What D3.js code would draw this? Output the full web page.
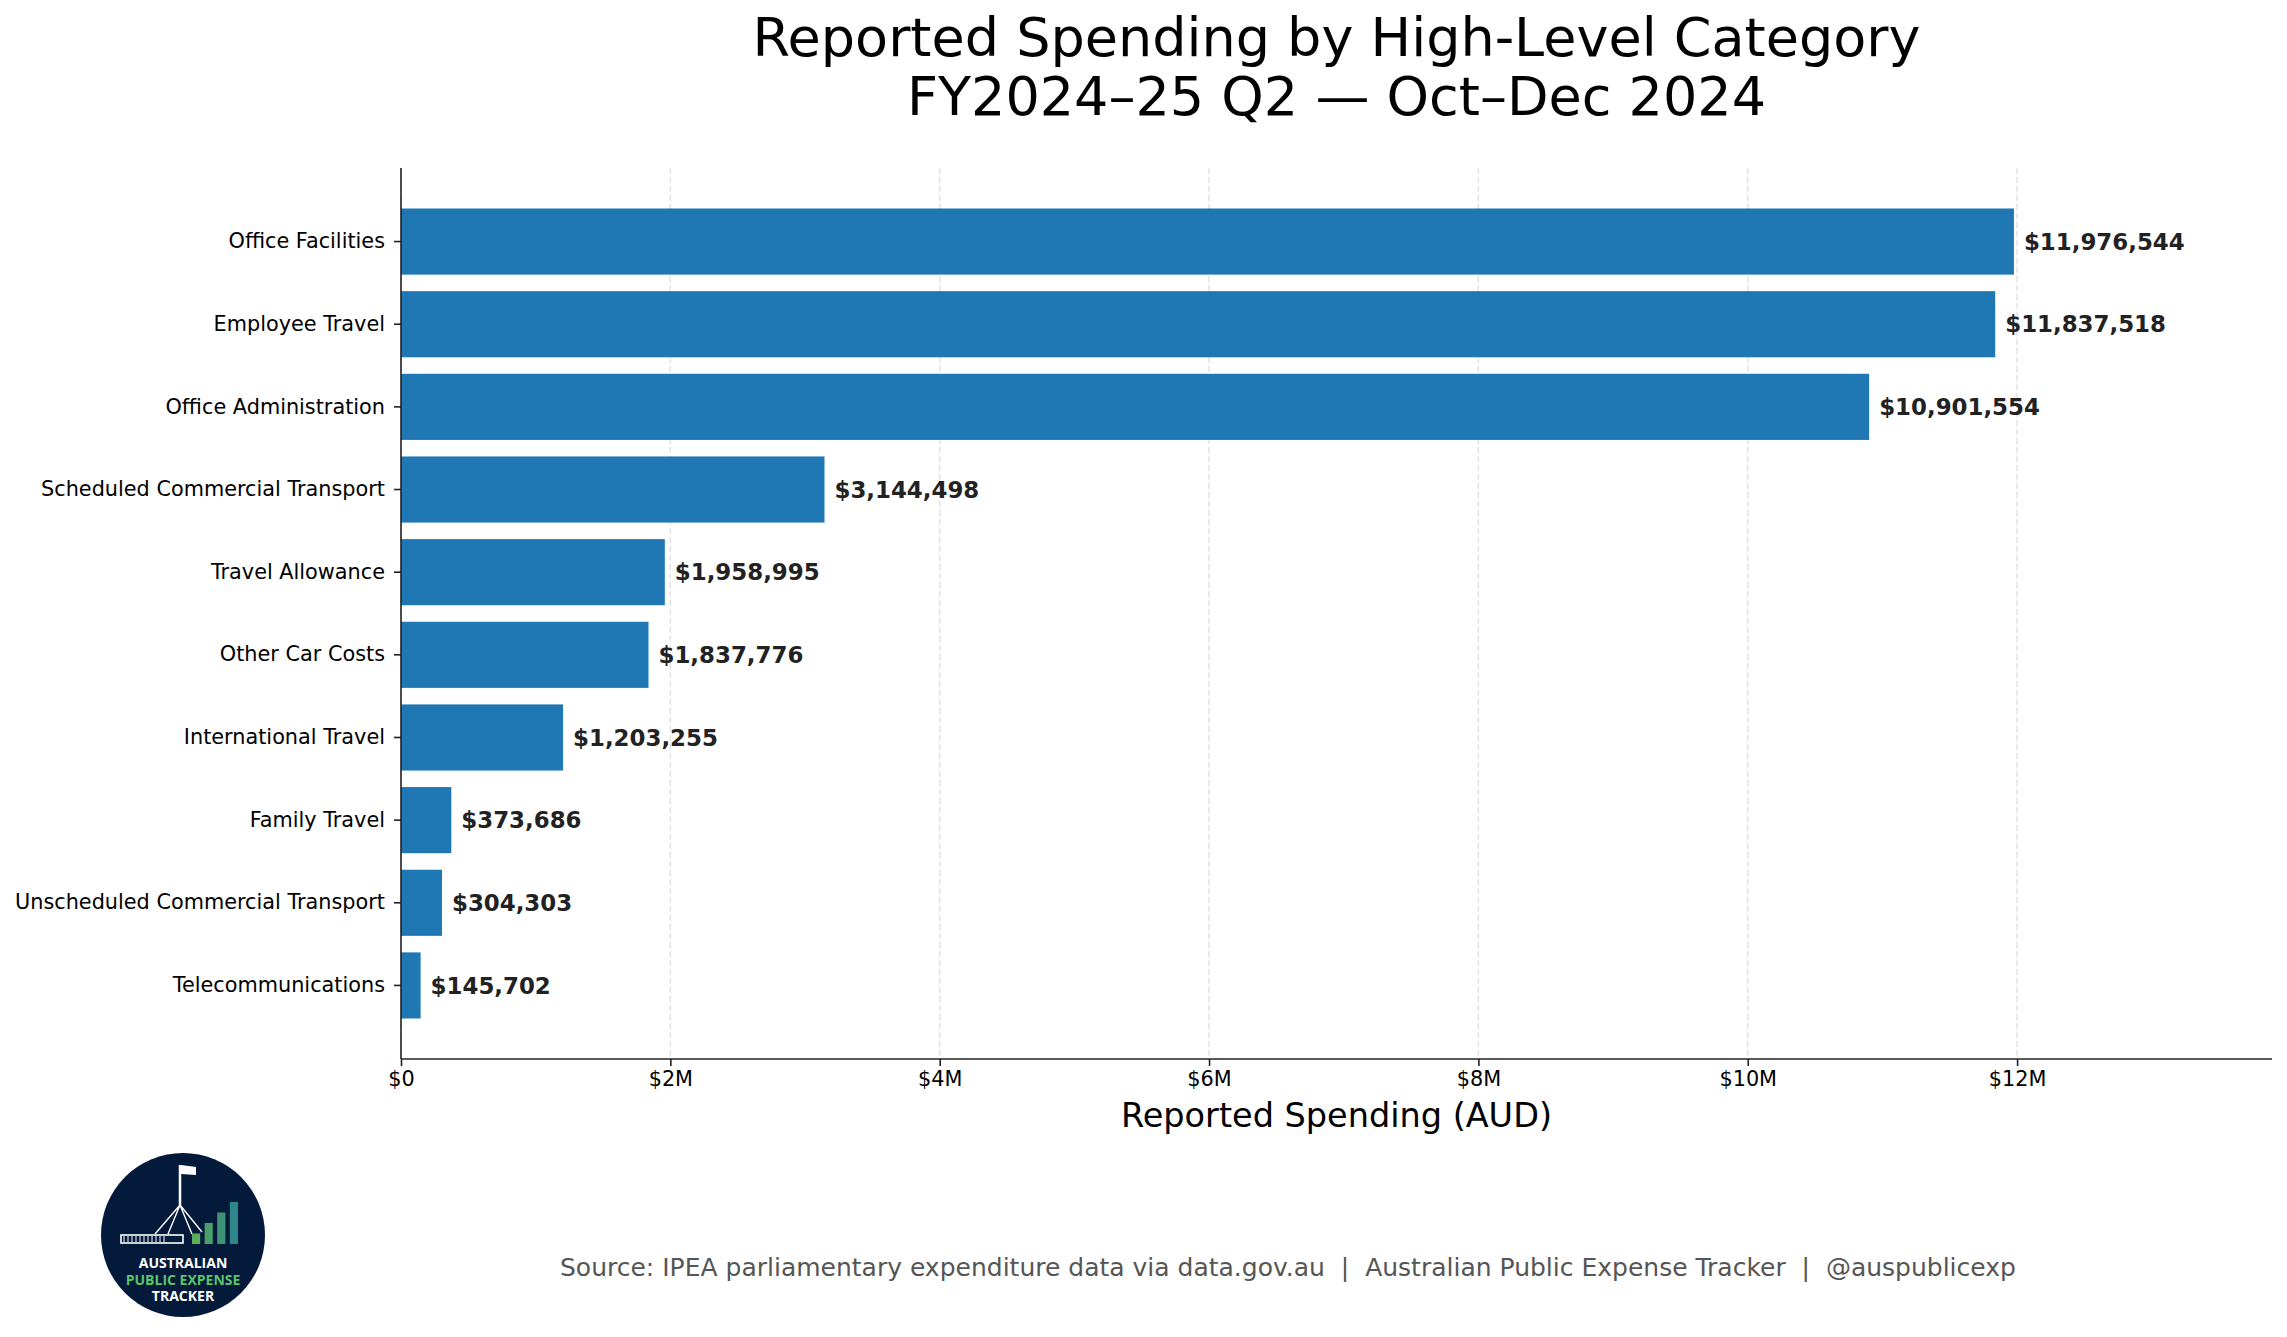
<!DOCTYPE html>
<html>
<head>
<meta charset="utf-8">
<script src="https://cdn.jsdelivr.net/npm/d3@7"></script>
<style>
  body { margin: 0; background: #fff; }
  svg { display: block; font-family: "DejaVu Sans", sans-serif; }
</style>
</head>
<body>
<div class="spend-chart"></div>
<script>
const categories = [
  'Office Facilities',
  'Employee Travel',
  'Office Administration',
  'Scheduled Commercial Transport',
  'Travel Allowance',
  'Other Car Costs',
  'International Travel',
  'Family Travel',
  'Unscheduled Commercial Transport',
  'Telecommunications'
];
const spending = [11976544, 11837518, 10901554, 3144498, 1958995, 1837776, 1203255, 373686, 304303, 145702];
const xTicks = [0, 2e6, 4e6, 6e6, 8e6, 10e6, 12e6];
const titleLines = ['Reported Spending by High-Level Category', 'FY2024\u201325 Q2 \u2014 Oct\u2013Dec 2024'];
const xLabel = 'Reported Spending (AUD)';
const sourceText = 'Source: IPEA parliamentary expenditure data via data.gov.au  |  Australian Public Expense Tracker  |  @auspublicexp';
const logoLines = ['AUSTRALIAN', 'PUBLIC EXPENSE', 'TRACKER'];
const logoBars = [1, 2, 3, 4];

const config = {
  width: 2287,
  height: 1337,
  left: 401,
  right: 2272,
  top: 168,
  bottom: 1059,
  barColor: '#1f77b4'
};

const chart = {};

chart.$svg = d3.select('.spend-chart')
  .append('svg')
  .attr('width', config.width)
  .attr('height', config.height)
  .attr('viewBox', `0 0 ${config.width} ${config.height}`);

chart.xScale = d3.scaleLinear()
  .domain([0, d3.max(spending) * 1.16])
  .range([config.left, config.right]);

chart.yScale = d3.scaleBand()
  .domain(categories)
  .range([config.top, config.bottom])
  .paddingInner(0.2)
  .paddingOuter(0.49);

// grid
chart.$svg.append('g')
  .selectAll('line')
  .data(xTicks)
  .enter()
  .append('line')
  .attr('x1', d => chart.xScale(d))
  .attr('x2', d => chart.xScale(d))
  .attr('y1', config.top)
  .attr('y2', config.bottom)
  .attr('stroke', '#e3e3e3')
  .attr('stroke-width', 1.5)
  .attr('stroke-dasharray', '6,3');

// bars
chart.$svg.append('g')
  .selectAll('rect')
  .data(categories)
  .enter()
  .append('rect')
  .attr('x', chart.xScale(0))
  .attr('y', d => chart.yScale(d))
  .attr('width', (d, i) => chart.xScale(spending[i]) - chart.xScale(0))
  .attr('height', chart.yScale.bandwidth())
  .attr('fill', config.barColor);

// value labels
chart.$svg.append('g')
  .selectAll('text')
  .data(categories)
  .enter()
  .append('text')
  .attr('x', (d, i) => chart.xScale(spending[i]) + 10)
  .attr('y', d => chart.yScale(d) + chart.yScale.bandwidth() / 2)
  .attr('dy', '0.36em')
  .attr('font-size', 22.9)
  .attr('font-weight', 'bold')
  .attr('fill', '#222')
  .text((d, i) => '$' + d3.format(',')(spending[i]));

// axes
const xAxis = d3.axisBottom(chart.xScale)
  .tickValues(xTicks)
  .tickSize(7)
  .tickPadding(5)
  .tickFormat(d => d === 0 ? '$0' : `$${d / 1e6}M`);

const yAxis = d3.axisLeft(chart.yScale)
  .tickSize(7)
  .tickPadding(9);

chart.$xAxis = chart.$svg.append('g')
  .attr('transform', `translate(0, ${config.bottom})`)
  .call(xAxis);

chart.$yAxis = chart.$svg.append('g')
  .attr('transform', `translate(${config.left}, 0)`)
  .call(yAxis);

[chart.$xAxis, chart.$yAxis].forEach($axis => {
  $axis.select('.domain')
    .attr('stroke', '#222')
    .attr('stroke-width', 1.6);
  $axis.selectAll('.tick line')
    .attr('stroke', '#222')
    .attr('stroke-width', 1.6);
  $axis.selectAll('.tick text')
    .attr('font-family', '"DejaVu Sans", sans-serif')
    .attr('font-size', 20.8)
    .attr('fill', '#000');
});

// the spines stop at the plot edges
chart.$xAxis.select('.domain')
  .attr('d', `M${config.left},0H${config.right}`);
chart.$yAxis.select('.domain')
  .attr('d', `M0,${config.top}V${config.bottom}`);

// axis label
chart.$svg.append('text')
  .attr('x', (config.left + config.right) / 2)
  .attr('y', 1127)
  .attr('text-anchor', 'middle')
  .attr('font-size', 33.5)
  .attr('fill', '#000')
  .text(xLabel);

// title
chart.$svg.append('g')
  .selectAll('text')
  .data(titleLines)
  .enter()
  .append('text')
  .attr('x', (config.left + config.right) / 2)
  .attr('y', (d, i) => 56 + i * 59)
  .attr('text-anchor', 'middle')
  .attr('font-size', 54)
  .attr('fill', '#000')
  .text(d => d);

// source line
chart.$svg.append('text')
  .attr('x', 560)
  .attr('y', 1276)
  .attr('font-size', 25)
  .attr('fill', '#555')
  .attr('xml:space', 'preserve')
  .style('white-space', 'pre')
  .text(sourceText);

// logo badge
const logo = { cx: 183, cy: 1235, r: 82 };
const $logo = chart.$svg.append('g')
  .attr('transform', `translate(${logo.cx}, ${logo.cy})`);

$logo.append('circle')
  .attr('r', logo.r)
  .attr('fill', '#041a3a');

// parliament house outline
$logo.append('rect')
  .attr('x', -62).attr('y', 0).attr('width', 62).attr('height', 8)
  .attr('fill', 'none').attr('stroke', '#fff').attr('stroke-width', 1.6);
$logo.selectAll('.col')
  .data(d3.range(11))
  .enter()
  .append('line')
  .attr('x1', d => -59 + d * 4).attr('x2', d => -59 + d * 4)
  .attr('y1', 1).attr('y2', 7)
  .attr('stroke', '#fff').attr('stroke-width', 1);
$logo.append('line')
  .attr('x1', -3).attr('x2', -3).attr('y1', -70).attr('y2', -30)
  .attr('stroke', '#fff').attr('stroke-width', 2.5);
$logo.append('path')
  .attr('d', 'M-2,-70 L13,-68 L13,-60 L-2,-61 Z')
  .attr('fill', '#fff');
$logo.append('path')
  .attr('d', 'M-3,-30 L-28,-1 M-3,-30 L-15,-1 M-3,-30 L9,-1 M-3,-30 L19,-3')
  .attr('stroke', '#fff').attr('stroke-width', 1.4).attr('fill', 'none');

const barColors = ['#5cad5c', '#4b9e6b', '#3e9276', '#2f8689'];
const logoBarX = d3.scaleBand().domain(logoBars).range([9, 55]).paddingInner(0.35);
const logoBarY = d3.scaleLinear().domain([0, 4]).range([9, -33]);
$logo.selectAll('.lbar')
  .data(logoBars)
  .enter()
  .append('rect')
  .attr('x', d => logoBarX(d))
  .attr('y', d => logoBarY(d))
  .attr('width', logoBarX.bandwidth())
  .attr('height', d => logoBarY(0) - logoBarY(d))
  .attr('fill', (d, i) => barColors[i]);

$logo.selectAll('.ltext')
  .data(logoLines)
  .enter()
  .append('text')
  .attr('x', 0)
  .attr('y', (d, i) => 33 + i * 16.5)
  .attr('text-anchor', 'middle')
  .attr('font-size', 14)
  .attr('font-weight', 'bold')
  .attr('font-family', '"Open Sans", sans-serif')
  .attr('fill', (d, i) => i === 1 ? '#5cc46a' : '#fff')
  .text(d => d);
</script>
</body>
</html>
